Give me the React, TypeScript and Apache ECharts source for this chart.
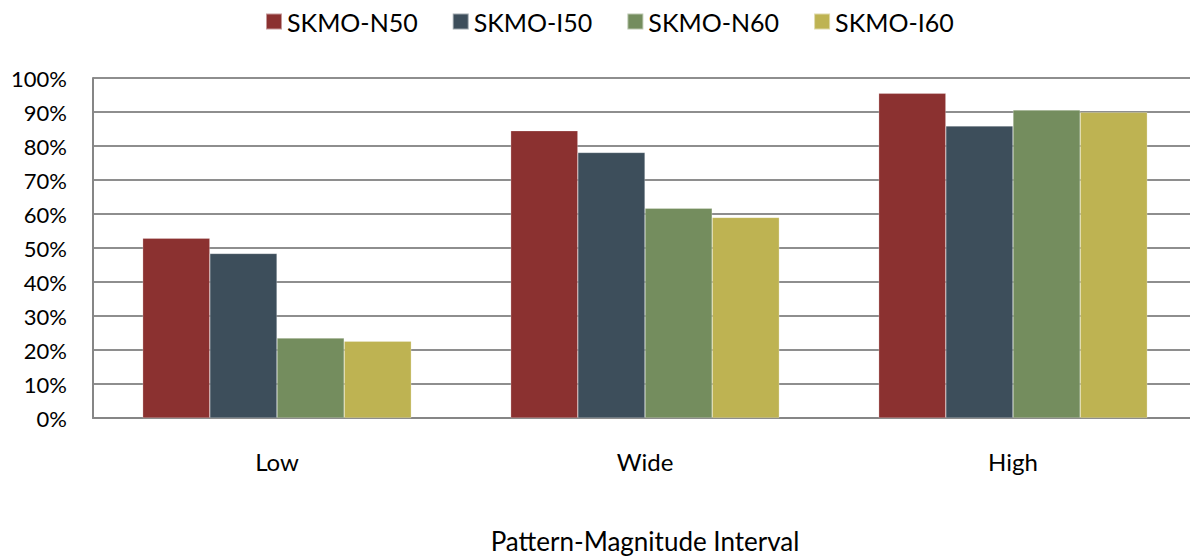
import React, { useEffect, useRef } from "react";
import * as echarts from "echarts";

const categories = ["Low", "Wide", "High"];
const seriesNames = ["SKMO-N50", "SKMO-I50", "SKMO-N60", "SKMO-I60"];
const n50 = [52.9, 84.5, 95.5];
const i50 = [48.4, 78.1, 85.9];
const n60 = [23.5, 61.7, 90.6];
const i60 = [22.6, 59.0, 89.9];
const yTicks = [0, 10, 20, 30, 40, 50, 60, 70, 80, 90, 100];
const colors = ["#8B3130", "#3D4E5B", "#748D5E", "#BEB352"];

const FONT = "Lato, 'Open Sans', sans-serif";

export default function App() {
  const ref = useRef<HTMLDivElement>(null);
  useEffect(() => {
    if (!ref.current) return;
    const chart = echarts.init(ref.current, undefined, { renderer: "svg" });
    const values = [n50, i50, n60, i60];
    chart.setOption({
      animation: false,
      textStyle: { fontFamily: FONT },
      legend: {
        top: 4,
        left: 260,
        itemWidth: 16,
        itemHeight: 16,
        itemGap: 34,
        icon: "rect",
        data: seriesNames,
        textStyle: { fontSize: 25, color: "#000", fontFamily: FONT },
      },
      grid: {
        left: 93,
        top: 78,
        right: 3,
        height: 340,
        containLabel: false,
        outerBoundsMode: "none",
      },
      xAxis: {
        type: "category",
        data: categories,
        name: "Pattern-Magnitude Interval",
        nameLocation: "middle",
        nameGap: 110,
        nameTextStyle: { fontSize: 26, color: "#000", fontFamily: FONT },
        axisLine: { lineStyle: { color: "#868686", width: 2 } },
        axisTick: { show: false },
        axisLabel: { fontSize: 24, color: "#000", margin: 31, fontFamily: FONT },
      },
      yAxis: {
        type: "value",
        min: yTicks[0],
        max: yTicks[yTicks.length - 1],
        interval: 10,
        axisLine: { show: true, lineStyle: { color: "#868686", width: 2 } },
        axisTick: { show: false },
        axisLabel: {
          fontSize: 22,
          color: "#000",
          margin: 26,
          fontFamily: FONT,
          formatter: (v: number) => v + "%",
        },
        splitLine: { lineStyle: { color: "#8e8e8e", width: 2 } },
      },
      series: seriesNames.map((name, k) => ({
        name,
        type: "bar",
        data: values[k],
        barGap: "0%",
        barCategoryGap: "27%",
        itemStyle: {
          color: colors[k],
          borderColor: "rgba(255,255,255,0.5)",
          borderWidth: 0.5,
        },
      })),
    });
    return () => chart.dispose();
  }, []);
  return (
    <div
      ref={ref}
      style={{ position: "fixed", left: 0, top: 0, width: 1200, height: 559, overflow: "hidden", background: "#fff" }}
    />
  );
}
